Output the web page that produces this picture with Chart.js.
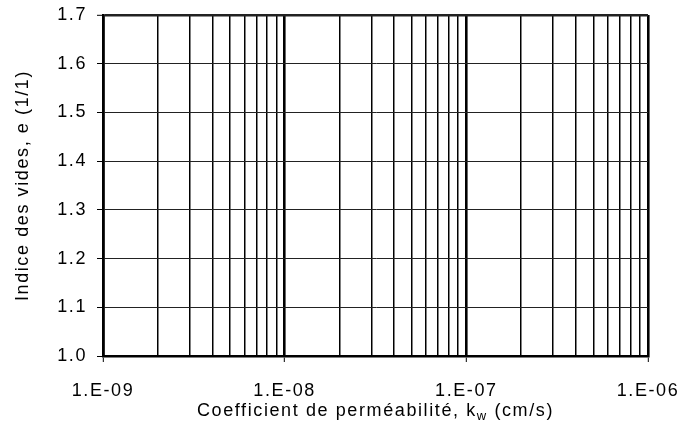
<!DOCTYPE html>
<html>
<head>
<meta charset="utf-8">
<script src="https://cdn.jsdelivr.net/npm/chart.js@4"></script>
<style>
  html, body { margin: 0; padding: 0; background: #fff; }
  #wrap { width: 695px; height: 431px; position: relative; }
</style>
</head>
<body>
<div id="wrap"><canvas id="void-chart"></canvas></div>
<script>
// decades of the permeability axis and their labels
const decadeTicks = [1e-9, 1e-8, 1e-7, 1e-6];
const decadeLabels = ['1.E-09', '1.E-08', '1.E-07', '1.E-06'];
// minor log gridlines inside every decade
const minorMultipliers = [2, 3, 4, 5, 6, 7, 8, 9];
// void ratio ticks
const yTicks = [1.0, 1.1, 1.2, 1.3, 1.4, 1.5, 1.6, 1.7];
// the sheet is an empty grid: no measured points yet
const permeability = [];
const voidRatio = [];

const xTickValues = [];
decadeTicks.forEach((d, i) => {
    xTickValues.push(d);
    if (i < decadeTicks.length - 1) {
        minorMultipliers.forEach(m => xTickValues.push(d * m));
    }
});

function isDecade(v) {
    return decadeTicks.some(d => Math.abs(v - d) / d < 1e-6);
}

function decadeLabel(v) {
    const i = decadeTicks.findIndex(d => Math.abs(v - d) / d < 1e-6);
    return i >= 0 ? decadeLabels[i] : '';
}

const FONT = '"Liberation Sans", Arial, sans-serif';
const SPACING = '1.6px';

// the scanned sheet has a slightly wider set type
const spacingPlugin = {
    id: 'spacing',
    beforeDraw(chart) {
        chart.ctx.letterSpacing = SPACING;
    },
};

const xTitlePlugin = {
    id: 'xTitle',
    afterDraw(chart) {
        const { ctx, chartArea } = chart;
        const main = 'Coefficient de perméabilité, k';
        const sub = 'w';
        const tail = ' (cm/s)';
        ctx.save();
        ctx.letterSpacing = SPACING;
        ctx.fillStyle = '#000';
        ctx.textBaseline = 'alphabetic';
        ctx.font = '18px ' + FONT;
        const w1 = ctx.measureText(main).width;
        const w3 = ctx.measureText(tail).width;
        ctx.font = '13px ' + FONT;
        const w2 = ctx.measureText(sub).width;
        const cx = (chartArea.left + chartArea.right) / 2;
        const y = chartArea.bottom + 60;
        let x = cx - (w1 + w2 + w3) / 2;
        ctx.font = '18px ' + FONT;
        ctx.fillText(main, x, y);
        x += w1;
        ctx.font = '13px ' + FONT;
        ctx.fillText(sub, x, y + 4);
        x += w2;
        ctx.font = '18px ' + FONT;
        ctx.fillText(tail, x, y);
        ctx.restore();
    },
};

Chart.defaults.font.family = FONT;
Chart.defaults.font.size = 18;
Chart.defaults.color = '#000';

new Chart(document.getElementById('void-chart'), {
    type: 'scatter',
    data: {
        datasets: [{
            label: 'e',
            data: permeability.map((k, i) => ({ x: k, y: voidRatio[i] })),
            borderColor: '#000',
            backgroundColor: '#000',
        }],
    },
    options: {
        responsive: true,
        maintainAspectRatio: false,
        animation: false,
        layout: { padding: { top: 15, right: 47, left: 0, bottom: 0 } },
        plugins: {
            legend: { display: false },
            tooltip: { enabled: false },
        },
        scales: {
            x: {
                type: 'logarithmic',
                min: decadeTicks[0],
                max: decadeTicks[decadeTicks.length - 1],
                afterBuildTicks: (scale) => {
                    scale.ticks = xTickValues.map(v => ({ value: v }));
                },
                afterFit: (scale) => {
                    scale.height = 75;
                    scale.paddingLeft = 0;
                    scale.paddingRight = 0;
                },
                ticks: {
                    autoSkip: false,
                    maxRotation: 0,
                    padding: 18,
                    callback: (v) => decadeLabel(v),
                },
                grid: {
                    color: '#000',
                    lineWidth: (ctx) => (ctx.tick && isDecade(ctx.tick.value) ? 2.6 : 1.5),
                    tickLength: 6,
                    tickWidth: 1,
                    tickColor: (ctx) => (ctx.tick && isDecade(ctx.tick.value) ? '#000' : 'rgba(0,0,0,0)'),
                },
                border: { display: true, color: '#000', width: 2.6 },
            },
            y: {
                min: yTicks[0],
                max: yTicks[yTicks.length - 1],
                afterBuildTicks: (scale) => {
                    scale.ticks = yTicks.map(v => ({ value: v }));
                },
                afterFit: (scale) => {
                    scale.width = 103;
                    scale.paddingTop = 0;
                    scale.paddingBottom = 0;
                },
                ticks: {
                    padding: 10,
                    callback: (v) => Number(v).toFixed(1),
                },
                grid: {
                    color: '#222',
                    lineWidth: (ctx) => (ctx.tick && ctx.tick.value === yTicks[yTicks.length - 1] ? 2.6 : 1),
                    tickLength: 6,
                    tickWidth: 1,
                    tickColor: '#000',
                },
                border: { display: true, color: '#000', width: 2.6 },
                title: {
                    display: true,
                    text: 'Indice des vides, e (1/1)',
                    font: { size: 18 },
                    padding: { top: 12, bottom: 0 },
                },
            },
        },
    },
    plugins: [spacingPlugin, xTitlePlugin],
});
</script>
</body>
</html>
